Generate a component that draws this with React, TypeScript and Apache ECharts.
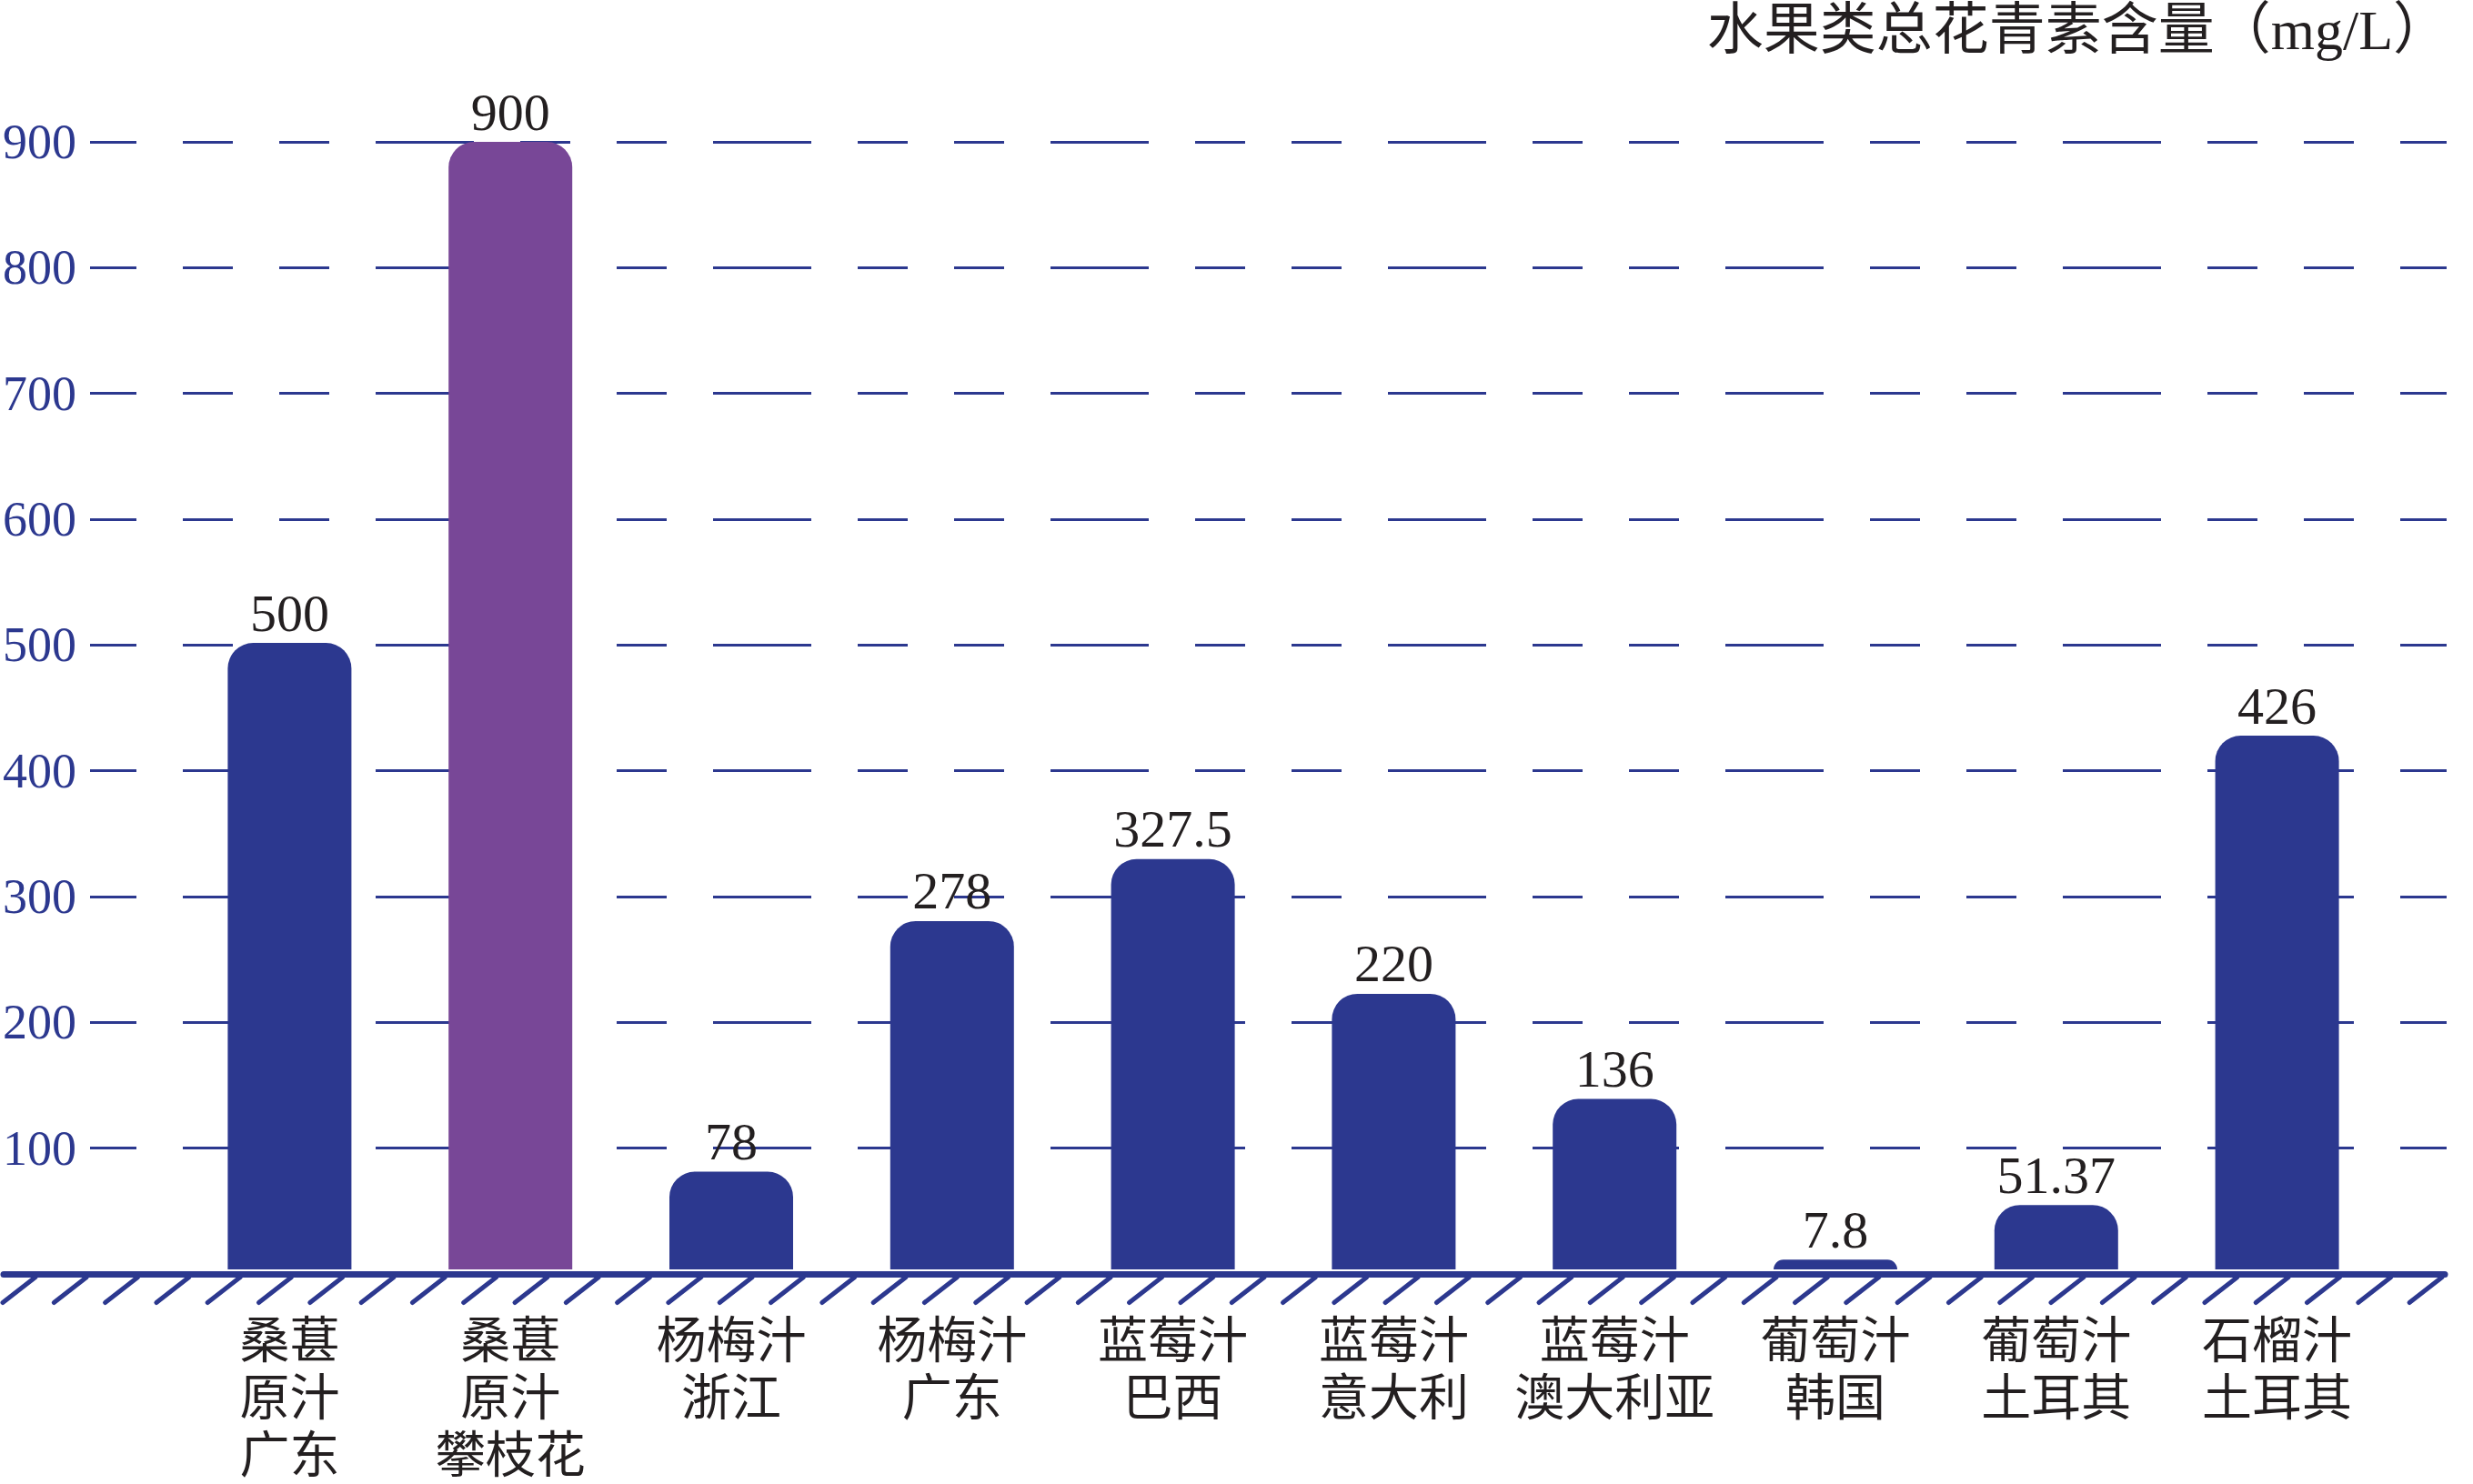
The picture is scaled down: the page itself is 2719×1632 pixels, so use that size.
import React, { useEffect, useRef } from "react";
import * as echarts from "echarts";

const categories: string[] = [
  "桑葚\n原汁\n广东",
  "桑葚\n原汁\n攀枝花",
  "杨梅汁\n浙江",
  "杨梅汁\n广东",
  "蓝莓汁\n巴西",
  "蓝莓汁\n意大利",
  "蓝莓汁\n澳大利亚",
  "葡萄汁\n韩国",
  "葡萄汁\n土耳其",
  "石榴汁\n土耳其",
];
const anthocyanin: number[] = [500, 900, 78, 278, 327.5, 220, 136, 7.8, 51.37, 426];
const highlighted = "桑葚\n原汁\n攀枝花";
const yMin = 0;
const yMax = 900;
const yStep = 100;
const titleText = "水果类总花青素含量（mg/L）";

const BLUE = "#2c388f";
const PURPLE = "#784797";
const INK = "#231f20";
const SERIF = "'Liberation Serif', 'Noto Sans CJK SC', serif";

export default function App() {
  const ref = useRef<HTMLDivElement>(null);
  useEffect(() => {
    if (!ref.current) return;
    const chart = echarts.init(ref.current, null, { renderer: "svg" });

    // decorative hatched baseline
    const axisY = 1401.5;
    const hatches: any[] = [];
    for (let k = 0; k < 48; k++) {
      const b = 3 + 56.3 * k;
      hatches.push({
        type: "line",
        shape: { x1: b + 36, y1: axisY + 3, x2: b, y2: axisY + 31 },
        style: { stroke: BLUE, lineWidth: 5, lineCap: "round" },
        z: 10,
      });
    }

    chart.setOption({
      animation: false,
      backgroundColor: "#ffffff",
      title: {
        text: titleText,
        right: 26,
        top: 2,
        padding: 0,
        textStyle: { fontSize: 62, fontWeight: "normal", color: INK, fontFamily: SERIF },
      },
      grid: [
        { left: 197, right: 94, top: 156, bottom: 231, containLabel: false },
        { left: 97, right: 29, top: 156, bottom: 231, containLabel: false },
      ],
      xAxis: [
        {
          type: "category",
          gridIndex: 0,
          data: categories,
          axisLine: { show: false },
          axisTick: { show: false },
          axisLabel: {
            interval: 0,
            margin: 47,
            fontSize: 55,
            lineHeight: 63,
            color: INK,
            fontFamily: SERIF,
          },
        },
        { type: "value", gridIndex: 1, show: false, min: 0, max: 1 },
      ],
      yAxis: [
        { type: "value", gridIndex: 0, min: yMin, max: yMax, interval: yStep, show: false, splitLine: { show: false } },
        {
          type: "value",
          gridIndex: 1,
          min: yMin,
          max: yMax,
          interval: yStep,
          axisLine: { show: false },
          axisTick: { show: false },
          axisLabel: {
            showMinLabel: false,
            align: "left",
            margin: 96,
            fontSize: 54,
            color: BLUE,
            fontFamily: SERIF,
          },
          splitLine: {
            show: true,
            lineStyle: { color: BLUE, width: 3, type: [108, 51, 55, 51, 55, 51], dashOffset: 57 },
          },
        },
      ],
      series: [
        {
          type: "bar",
          xAxisIndex: 0,
          yAxisIndex: 0,
          data: anthocyanin,
          barWidth: 136,
          itemStyle: {
            borderRadius: [28, 28, 0, 0],
            color: (p: any) => (p.name === highlighted ? PURPLE : BLUE),
          },
          label: {
            show: true,
            position: "top",
            distance: 4,
            fontSize: 58,
            color: INK,
            fontFamily: SERIF,
          },
          z: 3,
        },
      ],
      graphic: [
        {
          type: "line",
          shape: { x1: 4, y1: axisY, x2: 2688, y2: axisY },
          style: { stroke: BLUE, lineWidth: 7, lineCap: "round" },
          z: 10,
        },
        ...hatches,
      ],
    });
    return () => chart.dispose();
  }, []);
  return (
    <div
      ref={ref}
      style={{ position: "absolute", left: 0, top: 0, width: 2719, height: 1632, background: "#fff" }}
    />
  );
}
